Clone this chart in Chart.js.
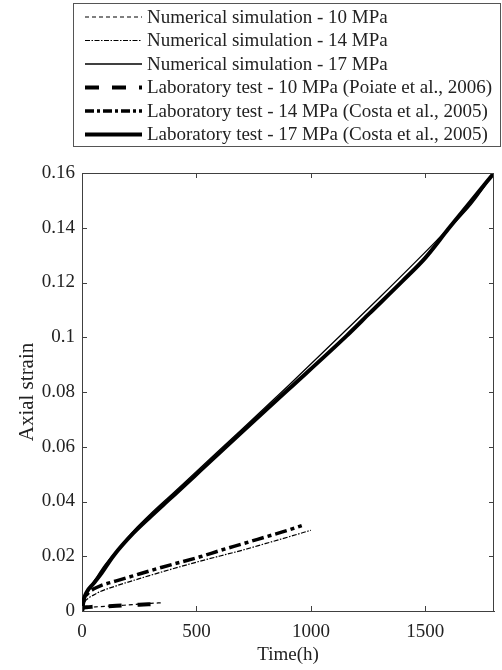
<!DOCTYPE html>
<html>
<head>
<meta charset="utf-8">
<script src="https://cdn.jsdelivr.net/npm/chart.js@4.4.0/dist/chart.umd.min.js"></script>
<style>
  html, body { margin: 0; padding: 0; background: #fff; }
  #wrap { width: 502px; height: 670px; }
</style>
</head>
<body>
<div id="wrap"><canvas id="creep" width="502" height="670"></canvas></div>
<script>
// creep curves: time in hours, axial strain
const num10Time = [0, 5, 20, 60, 100, 150, 200, 250, 300, 350];
const num10Strain = [0, 0.0011, 0.0013, 0.0015, 0.0017, 0.0019, 0.0022, 0.0025, 0.0028, 0.0030];

const num14Time = [0, 10, 30, 50, 80, 150, 250, 350, 516, 603, 700, 800, 900, 1000];
const num14Strain = [0, 0.0030, 0.0048, 0.0058, 0.0071, 0.0092, 0.0118, 0.0143, 0.0182, 0.0201, 0.0222, 0.0246, 0.0270, 0.0295];

const num17Time = [0, 10, 30, 60, 100, 150, 225, 300, 400, 500, 700, 900, 1156, 1300, 1548, 1700, 1800];
const num17Strain = [0, 0.0042, 0.0078, 0.0118, 0.0168, 0.0218, 0.0292, 0.0355, 0.0432, 0.0510, 0.0665, 0.0822, 0.1028, 0.1145, 0.1352, 0.1485, 0.1600];

const lab10Time = [0, 5, 20, 60, 100, 150, 200, 250, 310];
const lab10Strain = [0, 0.0012, 0.0014, 0.0016, 0.0017, 0.0019, 0.0021, 0.0023, 0.0025];

const lab14Time = [0, 10, 30, 50, 80, 150, 250, 350, 516, 603, 700, 800, 900, 960];
const lab14Strain = [0, 0.0042, 0.0068, 0.0080, 0.0092, 0.0110, 0.0135, 0.0160, 0.0198, 0.0221, 0.0245, 0.0270, 0.0295, 0.0312];

const lab17Time = [0, 5, 20, 50, 80, 138, 225, 300, 378, 465, 516, 700, 900, 1156, 1257, 1400, 1500, 1600, 1700, 1800];
const lab17Strain = [0, 0.0032, 0.0068, 0.0100, 0.0132, 0.0202, 0.0285, 0.0345, 0.0405, 0.0472, 0.0512, 0.0655, 0.0808, 0.1005, 0.1088, 0.1205, 0.1290, 0.1395, 0.1498, 0.1600];

const xTicks = [0, 500, 1000, 1500];
const yTicks = [0, 0.02, 0.04, 0.06, 0.08, 0.1, 0.12, 0.14, 0.16];

const serif = "'Liberation Serif', 'Times New Roman', serif";
const axisColor = "#404040";
const textColor = "#222";

const pts = (t, e) => t.map((v, i) => ({ x: v, y: e[i] }));

const series = (label, t, e, width, dash, legendDash) => ({
  label,
  data: pts(t, e),
  borderColor: "#000",
  borderWidth: width,
  borderDash: dash,
  legendDash: legendDash || dash,
  pointRadius: 0,
  cubicInterpolationMode: "monotone",
  fill: false
});

// boxed legend in the upper band, one entry per row
const boxedLegend = {
  id: "boxedLegend",
  afterDraw(chart) {
    const ctx = chart.ctx;
    ctx.save();
    ctx.strokeStyle = "#555";
    ctx.lineWidth = 1;
    ctx.setLineDash([]);
    ctx.strokeRect(73.5, 3.5, 427, 143);
    ctx.font = "19px " + serif;
    ctx.textBaseline = "middle";
    ctx.fillStyle = textColor;
    chart.data.datasets.forEach((ds, i) => {
      const y = 17 + i * 23.5;
      ctx.beginPath();
      ctx.setLineDash(ds.legendDash);
      ctx.lineWidth = ds.borderWidth;
      ctx.strokeStyle = ds.borderColor;
      ctx.moveTo(85, y);
      ctx.lineTo(142, y);
      ctx.stroke();
      ctx.setLineDash([]);
      ctx.fillText(ds.label, 147, y + 1);
    });
    ctx.restore();
  }
};

// top/right frame and inward tick marks on all four sides
const boxTicks = {
  id: "boxTicks",
  afterDraw(chart) {
    const { ctx, chartArea: a, scales: { x, y } } = chart;
    ctx.save();
    ctx.strokeStyle = axisColor;
    ctx.lineWidth = 1;
    ctx.setLineDash([]);
    ctx.beginPath();
    ctx.moveTo(a.left, a.top + 0.5);
    ctx.lineTo(a.right, a.top + 0.5);
    ctx.moveTo(a.right - 0.5, a.top);
    ctx.lineTo(a.right - 0.5, a.bottom);
    xTicks.forEach(v => {
      const px = Math.round(x.getPixelForValue(v)) + 0.5;
      ctx.moveTo(px, a.bottom);
      ctx.lineTo(px, a.bottom - 5);
      ctx.moveTo(px, a.top);
      ctx.lineTo(px, a.top + 5);
    });
    yTicks.forEach(v => {
      const py = Math.round(y.getPixelForValue(v)) + 0.5;
      ctx.moveTo(a.left, py);
      ctx.lineTo(a.left + 5, py);
      ctx.moveTo(a.right, py);
      ctx.lineTo(a.right - 5, py);
    });
    ctx.stroke();
    ctx.restore();
  }
};

new Chart(document.getElementById("creep"), {
  type: "line",
  data: {
    datasets: [
      series("Numerical simulation - 10 MPa", num10Time, num10Strain, 1.2, [4, 3]),
      series("Numerical simulation - 14 MPa", num14Time, num14Strain, 1.2, [5, 1.5, 1.5, 1.5]),
      series("Numerical simulation - 17 MPa", num17Time, num17Strain, 1.3, []),
      series("Laboratory test - 10 MPa (Poiate et al., 2006)", lab10Time, lab10Strain, 4, [13, 16], [14, 13]),
      series("Laboratory test - 14 MPa (Costa et al., 2005)", lab14Time, lab14Strain, 3.5, [12, 4, 4, 4], [9, 3, 3, 3]),
      series("Laboratory test - 17 MPa (Costa et al., 2005)", lab17Time, lab17Strain, 4, [])
    ]
  },
  options: {
    responsive: false,
    animation: false,
    layout: { padding: { top: 173, right: 8, bottom: 0, left: 0 } },
    plugins: {
      legend: { display: false },
      tooltip: { enabled: false }
    },
    scales: {
      x: {
        type: "linear",
        min: 0,
        max: 1800,
        afterBuildTicks: s => { s.ticks = xTicks.map(v => ({ value: v })); },
        afterFit: s => { s.height = 59; },
        grid: { drawOnChartArea: false, drawTicks: false },
        border: { color: axisColor, width: 1 },
        ticks: { padding: 10, maxRotation: 0, color: textColor, font: { family: serif, size: 19 }, callback: v => String(v) },
        title: { display: true, text: "Time(h)", color: textColor, font: { family: serif, size: 19 }, padding: { top: 0, bottom: 4 } }
      },
      y: {
        min: 0,
        max: 0.16,
        afterBuildTicks: s => { s.ticks = yTicks.map(v => ({ value: v })); },
        afterFit: s => { s.width = 82; },
        grid: { drawOnChartArea: false, drawTicks: false },
        border: { color: axisColor, width: 1 },
        ticks: { padding: 7, color: textColor, font: { family: serif, size: 19 }, callback: v => String(v) },
        title: { display: true, text: "Axial strain", color: textColor, font: { family: serif, size: 21 }, padding: { top: 15, bottom: 0 } }
      }
    }
  },
  plugins: [boxedLegend, boxTicks]
});
</script>
</body>
</html>
